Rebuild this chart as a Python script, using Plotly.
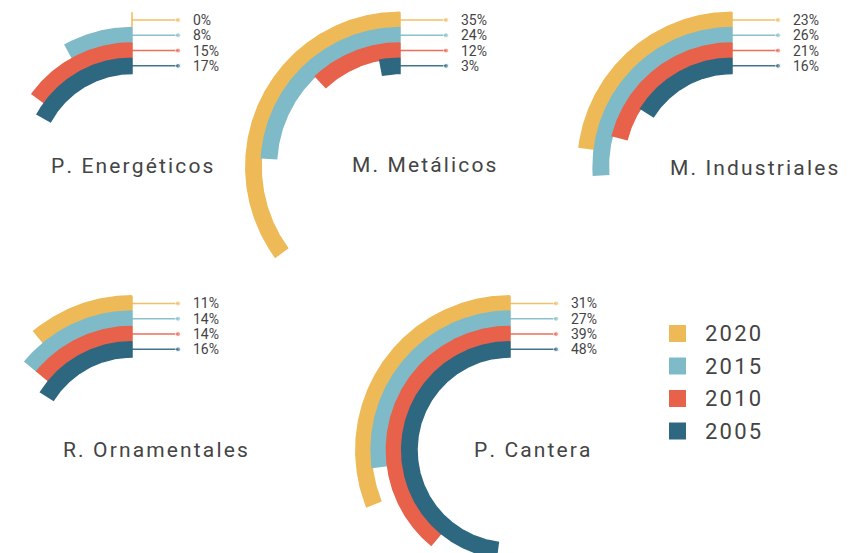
import numpy as np
import plotly.graph_objects as go

# data
categories = ["P. Energéticos", "M. Metálicos", "M. Industriales", "R. Ornamentales", "P. Cantera"]
years = ["2020", "2015", "2010", "2005"]
v2020 = [0, 35, 23, 11, 31]
v2015 = [8, 24, 26, 14, 27]
v2010 = [15, 12, 21, 14, 39]
v2005 = [17, 3, 16, 16, 48]

COLOURS = ["#EEBA58", "#7FBAC8", "#E8614A", "#2E6780"]
TEXT_COLOUR = "#444444"
FONT = "Roboto, 'Open Sans', sans-serif"

# layout of the five groups (pixel space, y down)
centres = [(132, 166.5), (400, 166.5), (732, 166.5), (132, 450), (510, 450)]
title_pos = [(131.5, 166), (423.5, 165), (754, 168), (155.5, 449.5), (532.5, 449.5)]
R_INNER = 93
BAND = 15.3
DEG_PER_PCT = 3.6


def spaced(s):
    return "\u200a".join(s)


def arc_polygon(cx, cy, r0, r1, deg):
    t = np.radians(np.linspace(0, deg, max(int(deg * 2), 2)))
    xo = cx - r1 * np.sin(t)
    yo = cy - r1 * np.cos(t)
    xi = cx - r0 * np.sin(t[::-1])
    yi = cy - r0 * np.cos(t[::-1])
    return np.concatenate([xo, xi, xo[:1]]), np.concatenate([yo, yi, yo[:1]])


series = [v2020, v2015, v2010, v2005]

fig = go.Figure()
annotations = []

for g, cat in enumerate(categories):
    cx, cy = centres[g]
    for k, vals in enumerate(series):
        r1 = R_INNER + BAND * (4 - k)
        r0 = r1 - BAND
        xs, ys = arc_polygon(cx, cy, r0, r1, vals[g] * DEG_PER_PCT)
        fig.add_trace(go.Scatter(
            x=xs, y=ys, mode="lines", fill="toself",
            fillcolor=COLOURS[k], line=dict(color=COLOURS[k], width=1.5),
            hoverinfo="skip", showlegend=False,
        ))
        ym = cy - (r0 + r1) / 2
        fig.add_trace(go.Scatter(
            x=[cx, cx + 46], y=[ym, ym], mode="lines+markers",
            line=dict(color=COLOURS[k], width=1.5),
            marker=dict(size=[0, 5], color=COLOURS[k]),
            opacity=0.9, hoverinfo="skip", showlegend=False,
        ))
        annotations.append(dict(
            x=cx + 59, y=ym, text=f"{vals[g]}%", showarrow=False,
            xanchor="left", yanchor="middle",
            font=dict(family=FONT, size=14, color=TEXT_COLOUR),
        ))
    tx, ty = title_pos[g]
    annotations.append(dict(
        x=tx, y=ty, text=spaced(cat), showarrow=False,
        xanchor="center", yanchor="middle",
        font=dict(family=FONT, size=21, color=TEXT_COLOUR),
    ))

# legend drawn by hand
legend_y = [333.5, 366, 398.5, 431]
fig.add_trace(go.Scatter(
    x=[677.5] * 4, y=legend_y, mode="markers",
    marker=dict(symbol="square", size=17, color=COLOURS, line=dict(width=0)),
    hoverinfo="skip", showlegend=False,
))
for k, yr in enumerate(years):
    annotations.append(dict(
        x=703, y=legend_y[k], text=spaced(yr), showarrow=False,
        xanchor="left", yanchor="middle",
        font=dict(family=FONT, size=22, color=TEXT_COLOUR),
    ))

fig.update_layout(
    width=854, height=553,
    margin=dict(l=0, r=0, t=0, b=0),
    paper_bgcolor="white", plot_bgcolor="white",
    xaxis=dict(range=[0, 854], visible=False, fixedrange=True),
    yaxis=dict(range=[553, 0], visible=False, fixedrange=True),
    annotations=annotations,
    showlegend=False,
)

# page body has an 8px default margin; drop it so pixels line up
fig.write_html("out.html", post_script="document.body.style.margin='0';",
               config={"displayModeBar": False})
